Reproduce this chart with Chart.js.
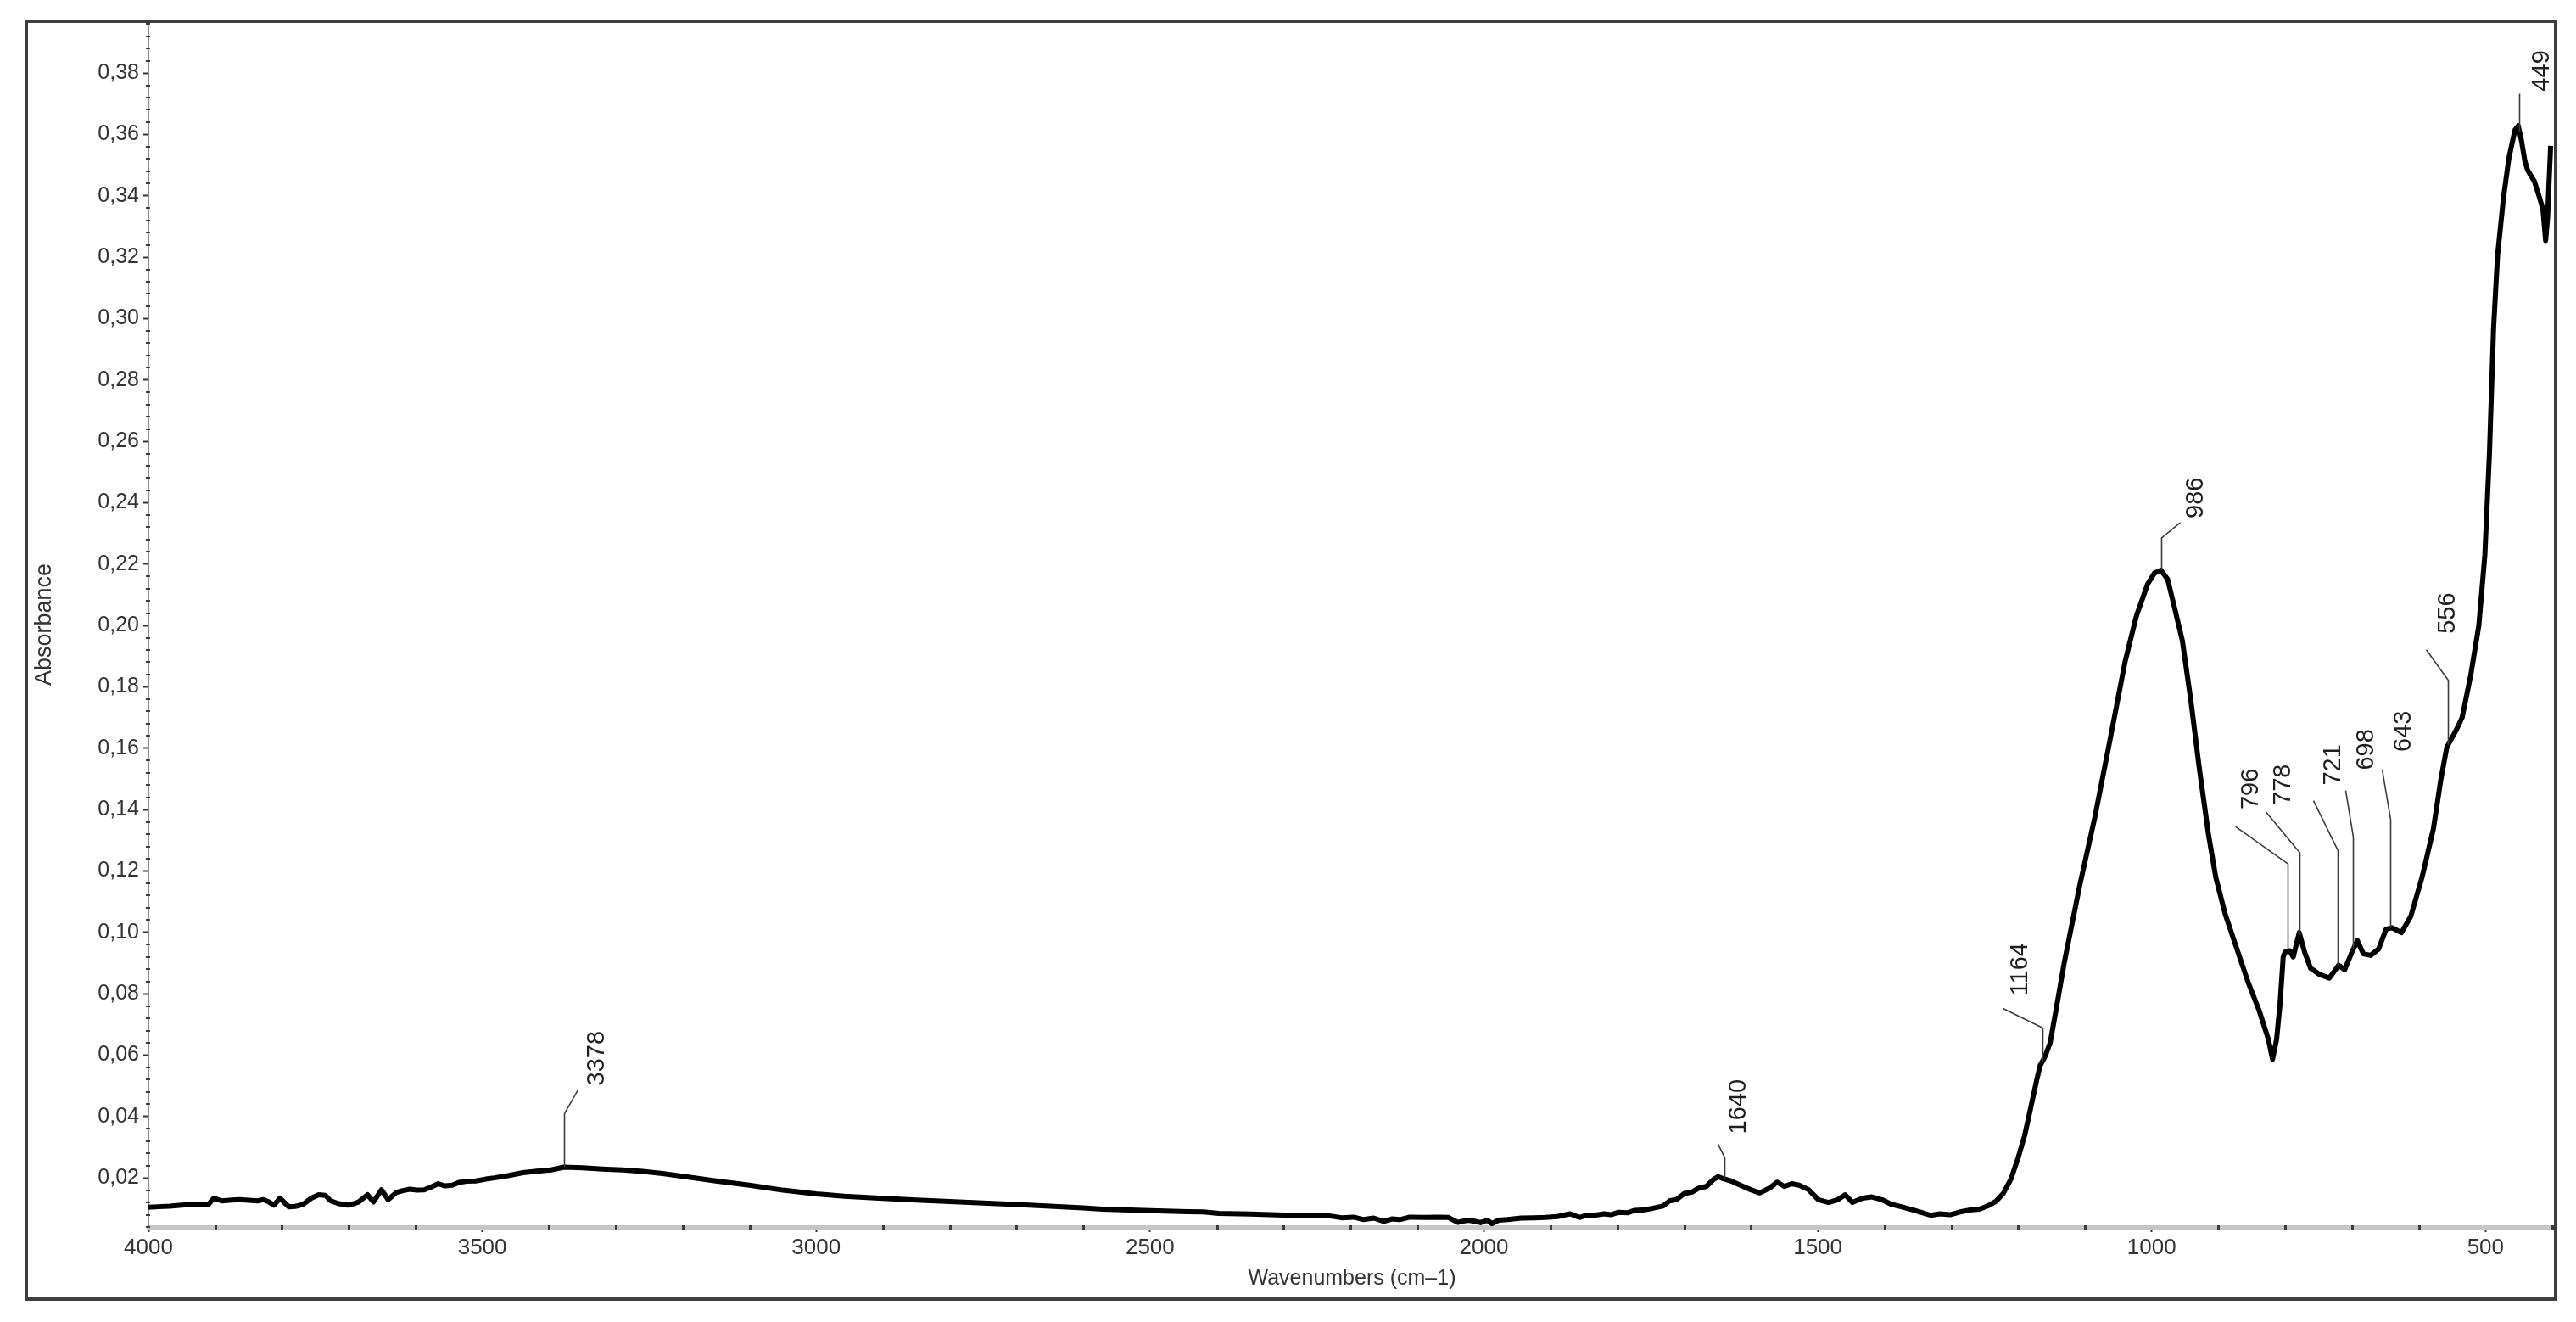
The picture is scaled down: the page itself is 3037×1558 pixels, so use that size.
<!DOCTYPE html>
<html>
<head>
<meta charset="utf-8">
<title>Absorbance spectrum</title>
<script src="https://cdn.jsdelivr.net/npm/chart.js@4.4.1/dist/chart.umd.min.js"></script>
<style>
  html, body { margin: 0; padding: 0; background: #fff; }
  #wrap { width: 3037px; height: 1558px; }
</style>
</head>
<body>
<div id="wrap"><canvas id="spectrum" width="3037" height="1558"></canvas></div>
<script>
const FONT = '"Liberation Sans", Arial, Helvetica, sans-serif';

// spectrum (cm-1 / absorbance)
const wavenumbers = [
  4000, 3985, 3968, 3950, 3926, 3911, 3902, 3890, 3875, 3863, 3850, 3837, 3828, 3820, 3812, 3803,
  3790, 3780, 3769, 3756, 3745, 3735, 3727, 3715, 3702, 3692, 3685, 3672, 3663, 3651, 3641, 3629,
  3620, 3609, 3598, 3587, 3577, 3566, 3556, 3545, 3535, 3524, 3510, 3495, 3482, 3460, 3439, 3418,
  3397, 3378, 3350, 3320, 3290, 3260, 3230, 3200, 3150, 3100, 3050, 3000, 2958, 2900, 2850, 2800,
  2750, 2700, 2650, 2600, 2571, 2530, 2500, 2444, 2420, 2397, 2350, 2300, 2260, 2234, 2213, 2195,
  2180, 2165, 2150, 2138, 2126, 2111, 2090, 2070, 2053, 2039, 2025, 2017, 2005, 1995, 1988, 1978,
  1965, 1944, 1925, 1908, 1890, 1871, 1857, 1845, 1835, 1820, 1810, 1798, 1785, 1775, 1762, 1747,
  1732, 1722, 1711, 1700, 1689, 1678, 1667, 1656, 1649, 1641, 1630, 1616, 1601, 1587, 1572, 1561,
  1550, 1539, 1528, 1514, 1499, 1484, 1470, 1459, 1448, 1433, 1419, 1404, 1390, 1375, 1360, 1346,
  1331, 1317, 1302, 1287, 1273, 1258, 1244, 1233, 1222, 1211, 1200, 1190, 1180, 1172, 1167, 1160,
  1152, 1143, 1131, 1108, 1085, 1063, 1040, 1023, 1006, 996, 986, 976, 966, 954, 941, 929,
  915, 904, 890, 873, 856, 839, 825, 819, 813, 808, 803, 800, 793, 788, 779, 771,
  762, 748, 734, 725, 720, 711, 700, 692, 683, 672, 660, 649, 640, 626, 612, 595,
  578, 567, 558, 550, 543, 535, 522, 510, 501, 494, 488, 482, 473, 465, 456, 451,
  446, 441, 437, 432, 427, 420, 414, 410, 407, 405, 402.5
];
const absorbance = [
  0.0104, 0.0106, 0.0108, 0.0111, 0.0115, 0.0112, 0.0134, 0.0125, 0.0128, 0.0129, 0.0127, 0.0125, 0.0129, 0.0122, 0.0111, 0.0134,
  0.0106, 0.0107, 0.0113, 0.0134, 0.0145, 0.0143, 0.0125, 0.0116, 0.0111, 0.0116, 0.0122, 0.0145, 0.0122, 0.0161, 0.0129, 0.0152,
  0.0158, 0.0163, 0.0160, 0.0161, 0.0170, 0.0181, 0.0174, 0.0176, 0.0185, 0.0189, 0.0190, 0.0196, 0.0200, 0.0208, 0.0217, 0.0222,
  0.0226, 0.0235, 0.0233, 0.0229, 0.0226, 0.0221, 0.0214, 0.0205, 0.0190, 0.0176, 0.0160, 0.0148, 0.0140, 0.0133, 0.0128, 0.0123,
  0.0118, 0.0113, 0.0108, 0.0102, 0.0098, 0.0095, 0.0093, 0.0090, 0.0089, 0.0084, 0.0082, 0.0079, 0.0078, 0.0077, 0.0070, 0.0072,
  0.0064, 0.0069, 0.0058, 0.0066, 0.0064, 0.0072, 0.0071, 0.0072, 0.0071, 0.0055, 0.0062, 0.0060, 0.0054, 0.0062, 0.0051, 0.0062,
  0.0064, 0.0069, 0.0070, 0.0071, 0.0074, 0.0083, 0.0071, 0.0079, 0.0078, 0.0083, 0.0080, 0.0088, 0.0086, 0.0094, 0.0095, 0.0101,
  0.0108, 0.0125, 0.0130, 0.0149, 0.0153, 0.0167, 0.0172, 0.0195, 0.0204, 0.0197, 0.0190, 0.0176, 0.0162, 0.0151, 0.0167, 0.0186,
  0.0172, 0.0181, 0.0176, 0.0162, 0.0129, 0.0120, 0.0129, 0.0145, 0.0120, 0.0134, 0.0138, 0.0129, 0.0114, 0.0106, 0.0097, 0.0088,
  0.0078, 0.0083, 0.0080, 0.0089, 0.0095, 0.0098, 0.0110, 0.0124, 0.0150, 0.0195, 0.0265, 0.0340, 0.0440, 0.0520, 0.0566, 0.0594,
  0.0640, 0.0750, 0.0900, 0.1150, 0.1376, 0.1620, 0.1880, 0.2030, 0.2135, 0.2170, 0.2180, 0.2150, 0.2060, 0.1950, 0.1750, 0.1540,
  0.1320, 0.1180, 0.1060, 0.0950, 0.0840, 0.0745, 0.0650, 0.0586, 0.0650, 0.0760, 0.0920, 0.0936, 0.0940, 0.0920, 0.0999, 0.0936,
  0.0883, 0.0862, 0.0851, 0.0878, 0.0893, 0.0878, 0.0936, 0.0973, 0.0930, 0.0925, 0.0946, 0.1010, 0.1015, 0.0999, 0.1052, 0.1180,
  0.1338, 0.1497, 0.1603, 0.1635, 0.1663, 0.1700, 0.1840, 0.2000, 0.2230, 0.2569, 0.2967, 0.3205, 0.3396, 0.3523, 0.3614, 0.3628,
  0.3577, 0.3512, 0.3484, 0.3465, 0.3448, 0.3400, 0.3355, 0.3254, 0.3330, 0.3438, 0.3563
];

// picked peaks written on the plot
const peakLabels = [3378, 1640, 1164, 986, 796, 778, 721, 698, 643, 556, 449];

const xTicks = [4000, 3500, 3000, 2500, 2000, 1500, 1000, 500];
const yTicks = [0.02, 0.04, 0.06, 0.08, 0.10, 0.12, 0.14, 0.16, 0.18, 0.20,
                0.22, 0.24, 0.26, 0.28, 0.30, 0.32, 0.34, 0.36, 0.38];

// leader shape per label (px): rise, slant dx, slant rise, text dx, text gap
const leaderShape = {
  3378: [63, 16, 28, 22, 5],
  1640: [25, -8, 16, 24, 12],
  1164: [40, -47, 23, 20, 15],
  986:  [38, 22, 18, 18, 5],
  796:  [103, -62, 44, 18, 20],
  778:  [97, -40, 48, 20, 8],
  721:  [136, -29, 59, 23, 18],
  698:  [132, -9, 55, 24, 24],
  643:  [128, -10, 59, 25, 21],
  556:  [76, -26, 36, 25, 19],
  449:  [45, 0, 0, 26, 3],
};

function absAt(wn) {
  for (let i = 1; i < wavenumbers.length; i++) {
    if (wn >= wavenumbers[i]) {
      const w0 = wavenumbers[i - 1], w1 = wavenumbers[i];
      const t = (w0 - wn) / (w0 - w1);
      return absorbance[i - 1] + t * (absorbance[i] - absorbance[i - 1]);
    }
  }
  return absorbance[absorbance.length - 1];
}

// small dots along both axes
const minorTicks = {
  id: 'minorTicks',
  afterDraw(chart) {
    const { ctx, chartArea, scales: { x, y } } = chart;
    ctx.save();
    ctx.fillStyle = '#3c3c3c';
    for (let v = 400; v <= 4000; v += 100) {
      if (v % 500 === 0) continue;
      const px = x.getPixelForValue(v);
      ctx.fillRect(Math.round(px) - 1, chartArea.bottom - 2, 3, 6);
    }
    for (let k = 1; k * 0.004 < 0.397; k++) {
      if (k % 5 === 0) continue;
      const py = y.getPixelForValue(k * 0.004);
      ctx.fillRect(chartArea.left - 3, Math.round(py) - 1, 5, 2);
    }
    ctx.restore();
  }
};

const peakLabelPlugin = {
  id: 'peakLabels',
  afterDatasetsDraw(chart) {
    const { ctx, scales: { x, y } } = chart;
    ctx.save();
    ctx.strokeStyle = '#3a3a3a';
    ctx.lineWidth = 1.6;
    ctx.fillStyle = '#1e1e1e';
    ctx.font = '29px ' + FONT;
    peakLabels.forEach(wn => {
      const [rise, sdx, srise, tdx, gap] = leaderShape[wn];
      const px = Math.round(x.getPixelForValue(wn)) + 0.5;
      const py = y.getPixelForValue(absAt(wn));
      const topY = py - rise;
      const endX = px + sdx;
      const endY = topY - srise;
      ctx.beginPath();
      ctx.moveTo(px, py);
      ctx.lineTo(px, topY);
      ctx.lineTo(endX, endY);
      ctx.stroke();
      ctx.save();
      ctx.translate(endX + tdx, endY - gap);
      ctx.rotate(-Math.PI / 2);
      ctx.textAlign = 'left';
      ctx.textBaseline = 'middle';
      ctx.fillText(String(wn), 0, 0);
      ctx.restore();
    });
    ctx.restore();
  }
};

const outerFrame = {
  id: 'outerFrame',
  afterDraw(chart) {
    const { ctx } = chart;
    ctx.save();
    ctx.strokeStyle = '#3e3e3e';
    ctx.lineWidth = 4;
    ctx.strokeRect(31, 25, 2982, 1506);
    ctx.restore();
  }
};

new Chart(document.getElementById('spectrum'), {
  type: 'line',
  data: {
    datasets: [{
      data: wavenumbers.map((w, i) => ({ x: w, y: absorbance[i] })),
      borderColor: '#000',
      borderWidth: 6,
      borderJoinStyle: 'round',
      pointRadius: 0,
      tension: 0,
      fill: false,
    }],
  },
  options: {
    responsive: false,
    animation: false,
    devicePixelRatio: 1,
    layout: { padding: { left: 30, top: 26, right: 24, bottom: 26 } },
    plugins: {
      legend: { display: false },
      tooltip: { enabled: false },
    },
    scales: {
      x: {
        type: 'linear',
        reverse: true,
        min: 395,
        max: 4000,
        afterBuildTicks: s => { s.ticks = xTicks.map(v => ({ value: v })); },
        afterFit: s => { s.height = 86; },
        ticks: {
          autoSkip: false,
          maxRotation: 0,
          padding: 3,
          color: '#333',
          font: { family: FONT, size: 26 },
          callback: v => String(v),
        },
        grid: { drawOnChartArea: false, drawTicks: true, tickLength: 6, tickWidth: 2, tickColor: '#333' },
        border: { display: true, color: '#c6c6c6', width: 5 },
        title: {
          display: true,
          text: 'Wavenumbers (cm\u20131)',
          color: '#333',
          font: { family: FONT, size: 25 },
          padding: { top: 0, bottom: 10 },
        },
      },
      y: {
        type: 'linear',
        min: 0.004,
        max: 0.3966,
        afterBuildTicks: s => { s.ticks = yTicks.map(v => ({ value: v })); },
        afterFit: s => { s.width = 145; },
        ticks: {
          autoSkip: false,
          padding: 5,
          color: '#333',
          font: { family: FONT, size: 25 },
          callback: v => v.toFixed(2).replace('.', ','),
        },
        grid: { drawOnChartArea: false, drawTicks: true, tickLength: 6, tickWidth: 2, tickColor: '#333' },
        border: { display: true, color: '#8c8c8c', width: 2 },
        title: {
          display: true,
          text: 'Absorbance',
          color: '#333',
          font: { family: FONT, size: 27 },
          padding: { top: 6, bottom: 0 },
        },
      },
    },
  },
  plugins: [minorTicks, peakLabelPlugin, outerFrame],
});
</script>
</body>
</html>
